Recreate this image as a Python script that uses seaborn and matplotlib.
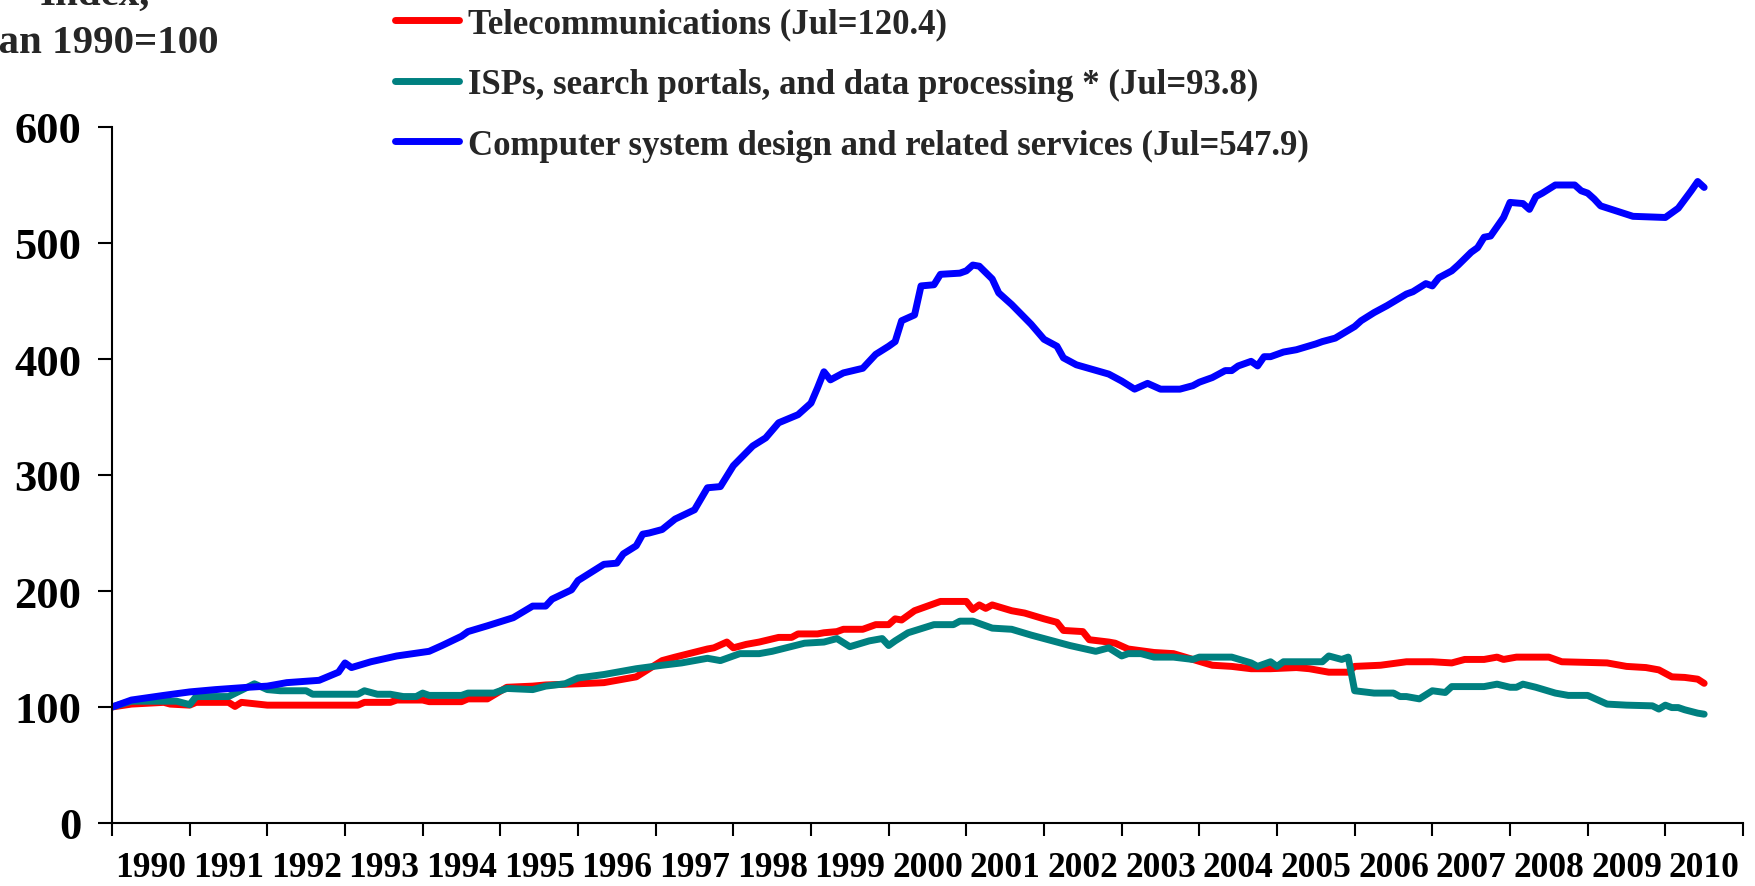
import pandas as pd
import matplotlib
matplotlib.use("Agg")
import matplotlib.pyplot as plt
import seaborn as sns

# Indice, Jan 1990 = 100
telecom_dates = [
    "1990-01", "1990-04", "1990-09", "1990-10", "1991-01", "1991-02", "1991-07", "1991-08",
    "1991-09", "1992-01", "1993-03", "1993-04", "1993-08", "1993-09", "1994-01", "1994-02",
    "1994-07", "1994-08", "1994-11", "1995-02", "1995-06", "1995-08", "1996-01", "1996-05",
    "1996-10", "1997-02", "1997-04", "1997-09", "1997-10", "1997-12", "1998-01", "1998-03",
    "1998-05", "1998-08", "1998-10", "1998-11", "1999-02", "1999-03", "1999-05", "1999-06",
    "1999-09", "1999-11", "2000-01", "2000-02", "2000-03", "2000-05", "2000-07", "2000-09",
    "2001-01", "2001-02", "2001-03", "2001-04", "2001-05", "2001-08", "2001-10", "2002-01",
    "2002-03", "2002-04", "2002-07", "2002-08", "2002-11", "2002-12", "2003-02", "2003-06",
    "2003-09", "2003-12", "2004-03", "2004-06", "2004-09", "2004-12", "2005-04", "2005-06",
    "2005-09", "2005-12", "2006-01", "2006-05", "2006-09", "2007-01", "2007-04", "2007-06",
    "2007-09", "2007-11", "2007-12", "2008-02", "2008-07", "2008-09", "2009-04", "2009-07",
    "2009-10", "2009-12", "2010-02", "2010-04", "2010-06", "2010-07",
]
telecom_values = [
    100, 102.5, 104, 102.5, 101.6, 104, 104, 100.5,
    104, 101.6, 101.6, 104, 104, 106, 106, 104.6,
    104.6, 107, 107, 117, 118, 119, 120, 121,
    126, 140, 143, 150, 151, 156, 151, 154,
    156, 160, 160, 163, 163, 164, 165, 167,
    167, 171, 171, 176, 175, 183, 187, 191,
    191, 184, 188, 185, 188, 183, 181, 176,
    173, 166, 165, 158, 156, 155, 150, 147,
    146, 141, 136, 135, 133, 133, 134, 133,
    130, 130, 135, 136, 139, 139, 138, 141,
    141, 143, 141, 143, 143, 139, 138, 135,
    134, 132, 126, 125.5, 124, 120.4,
]

isp_dates = [
    "1990-01", "1990-04", "1990-11", "1991-01", "1991-02", "1991-07", "1991-11", "1992-01",
    "1992-03", "1992-07", "1992-08", "1993-03", "1993-04", "1993-06", "1993-08", "1993-10",
    "1993-12", "1994-01", "1994-02", "1994-07", "1994-08", "1994-12", "1995-02", "1995-06",
    "1995-08", "1995-11", "1996-01", "1996-05", "1996-10", "1997-02", "1997-05", "1997-07",
    "1997-09", "1997-11", "1997-12", "1998-02", "1998-05", "1998-07", "1998-12", "1999-03",
    "1999-05", "1999-07", "1999-10", "1999-12", "2000-01", "2000-02", "2000-04", "2000-08",
    "2000-11", "2000-12", "2001-02", "2001-05", "2001-08", "2001-11", "2002-03", "2002-05",
    "2002-09", "2002-11", "2003-01", "2003-02", "2003-04", "2003-06", "2003-09", "2003-12",
    "2004-01", "2004-06", "2004-09", "2004-10", "2004-12", "2005-01", "2005-02", "2005-08",
    "2005-09", "2005-11", "2005-12", "2006-01", "2006-04", "2006-07", "2006-08", "2006-09",
    "2006-11", "2007-01", "2007-03", "2007-04", "2007-09", "2007-11", "2008-01", "2008-02",
    "2008-03", "2008-05", "2008-08", "2008-10", "2009-01", "2009-04", "2009-07", "2009-11",
    "2009-12", "2010-01", "2010-02", "2010-03", "2010-04", "2010-06", "2010-07",
]
isp_values = [
    100, 105, 105, 102, 109, 109, 120, 115,
    114, 114, 111, 111, 114, 111, 111, 109,
    109, 112, 110, 110, 112, 112, 116, 115,
    118, 120, 125, 128, 133, 136, 138, 140,
    142, 140, 142, 146, 146, 148, 155, 156,
    159, 152, 157, 159, 153, 157, 164, 171,
    171, 174, 174, 168, 167, 162, 156, 153,
    148, 151, 144, 146, 146, 143, 143, 141,
    143, 143, 138, 135, 139, 135, 139, 139,
    144, 141, 143, 114, 112, 112, 109, 109,
    107, 114, 112.5, 117.6, 117.6, 119.7, 117, 117,
    119.7, 117, 112, 110, 110, 102.5, 101.6, 101,
    98.2, 101.6, 99.5, 99.5, 97.6, 94.7, 93.8,
]

csd_dates = [
    "1990-01", "1990-04", "1990-09", "1991-01", "1991-05", "1991-10", "1992-01", "1992-04",
    "1992-09", "1992-12", "1993-01", "1993-02", "1993-05", "1993-09", "1994-02", "1994-04",
    "1994-07", "1994-08", "1994-11", "1995-03", "1995-06", "1995-08", "1995-09", "1995-12",
    "1996-01", "1996-05", "1996-07", "1996-08", "1996-10", "1996-11", "1996-12", "1997-02",
    "1997-04", "1997-07", "1997-09", "1997-11", "1998-01", "1998-04", "1998-06", "1998-08",
    "1998-11", "1999-01", "1999-02", "1999-03", "1999-04", "1999-06", "1999-09", "1999-11",
    "2000-01", "2000-02", "2000-03", "2000-05", "2000-06", "2000-08", "2000-09", "2000-12",
    "2001-01", "2001-02", "2001-03", "2001-05", "2001-06", "2001-08", "2001-11", "2002-01",
    "2002-03", "2002-04", "2002-06", "2002-11", "2003-01", "2003-03", "2003-05", "2003-07",
    "2003-10", "2003-12", "2004-01", "2004-03", "2004-05", "2004-06", "2004-07", "2004-09",
    "2004-10", "2004-11", "2004-12", "2005-02", "2005-04", "2005-07", "2005-08", "2005-10",
    "2006-01", "2006-02", "2006-04", "2006-06", "2006-09", "2006-10", "2006-12", "2007-01",
    "2007-02", "2007-04", "2007-05", "2007-07", "2007-08", "2007-09", "2007-10", "2007-12",
    "2008-01", "2008-03", "2008-04", "2008-05", "2008-06", "2008-08", "2008-11", "2008-12",
    "2009-01", "2009-02", "2009-03", "2009-08", "2010-01", "2010-02", "2010-03", "2010-05",
    "2010-06", "2010-07",
]
csd_values = [
    100, 106, 110, 113, 115, 117, 118, 121,
    123, 130, 138, 134, 139, 144, 148, 153,
    161, 165, 170, 177, 187, 187, 193, 201,
    209, 223, 224, 232, 239, 249, 250, 253,
    262, 270, 289, 290, 308, 325, 332, 345,
    352, 362, 375, 389, 382, 388, 392, 404,
    411, 415, 433, 438, 463, 464, 473, 474,
    476, 481, 480, 469, 457, 447, 430, 417,
    411, 401, 395, 387, 381, 374, 379, 374,
    374, 377, 380, 384, 390, 390, 394, 398,
    394, 402, 402, 406, 408, 413, 415, 418,
    428, 433, 440, 446, 456, 458, 465, 463,
    470, 476, 481, 492, 496, 505, 506, 522,
    535, 534, 529, 540, 543, 550, 550, 545,
    543, 538, 532, 523, 522, 526, 530, 545,
    553, 547.9,
]

series_names = [
    "Telecommunications (Jul=120.4)",
    "ISPs, search portals, and data processing * (Jul=93.8)",
    "Computer system design and related services (Jul=547.9)",
]
series_colors = ["#FF0000", "#008080", "#0000FF"]
year_labels = [str(y) for y in range(1990, 2011)]
y_ticks = [0, 100, 200, 300, 400, 500, 600]


def to_frame(dates, values, name):
    d = pd.to_datetime(pd.Series(dates), format="%Y-%m")
    return pd.DataFrame({
        "t": d.dt.year + (d.dt.month - 1) / 12,
        "indice": values,
        "serie": name,
    })


df = pd.concat([
    to_frame(telecom_dates, telecom_values, series_names[0]),
    to_frame(isp_dates, isp_values, series_names[1]),
    to_frame(csd_dates, csd_values, series_names[2]),
], ignore_index=True)

sns.set_theme(style="ticks")
plt.rcParams["font.family"] = ["Liberation Serif", "DejaVu Serif"]
plt.rcParams["font.weight"] = "bold"

W, H = 1756, 887
fig = plt.figure(figsize=(W / 100, H / 100), dpi=100)
ax = fig.add_axes([112 / W, 63 / H, (1743 - 112) / W, (824 - 128) / H])

LW = 5
sns.lineplot(data=df, x="t", y="indice", hue="serie", hue_order=series_names,
             palette=dict(zip(series_names, series_colors)), linewidth=LW,
             estimator=None, sort=False, ax=ax)

ax.set_xlim(1990, 2011)
ax.set_ylim(0, 600)
ax.set_xlabel("")
ax.set_ylabel("")

# ticks aux changements d'annee, etiquettes au milieu de l'annee
ax.set_xticks(range(1990, 2012))
ax.set_xticks([y + 0.5 for y in range(1990, 2011)], minor=True)
ax.set_xticklabels(year_labels, minor=True, fontsize=25.5, fontweight="bold")
ax.tick_params(axis="x", which="major", direction="out", length=9, width=1.5,
               color="black", labelbottom=False)
ax.tick_params(axis="x", which="minor", length=0, pad=20, labelcolor="black")
ax.set_yticks(y_ticks)
ax.set_yticklabels([str(v) for v in y_ticks], fontsize=32, fontweight="bold")
ax.tick_params(axis="y", direction="out", length=10, width=1.5, pad=12,
               color="black", labelcolor="black")

for side in ["top", "right"]:
    ax.spines[side].set_visible(False)
for side in ["left", "bottom"]:
    ax.spines[side].set_color("black")
    ax.spines[side].set_linewidth(1.5)

handles, labels = ax.get_legend_handles_labels()
leg = ax.legend(handles, labels, loc="upper left", bbox_to_anchor=(395 / W, 1 - 8 / H),
                bbox_transform=fig.transFigure, frameon=False, borderpad=0,
                borderaxespad=0, handlelength=1.84, handletextpad=0.26,
                labelspacing=0.80, prop={"size": 25, "weight": "bold"})
for line in leg.get_lines():
    line.set_linewidth(LW)

fig.text(95 / W, 1 - 5 / H, "Index,", ha="center", va="baseline",
         fontsize=29.5, fontweight="bold")
fig.text(98 / W, 1 - 53 / H, "Jan 1990=100", ha="center", va="baseline",
         fontsize=29.5, fontweight="bold")

fig.savefig("out.png", dpi=100)
